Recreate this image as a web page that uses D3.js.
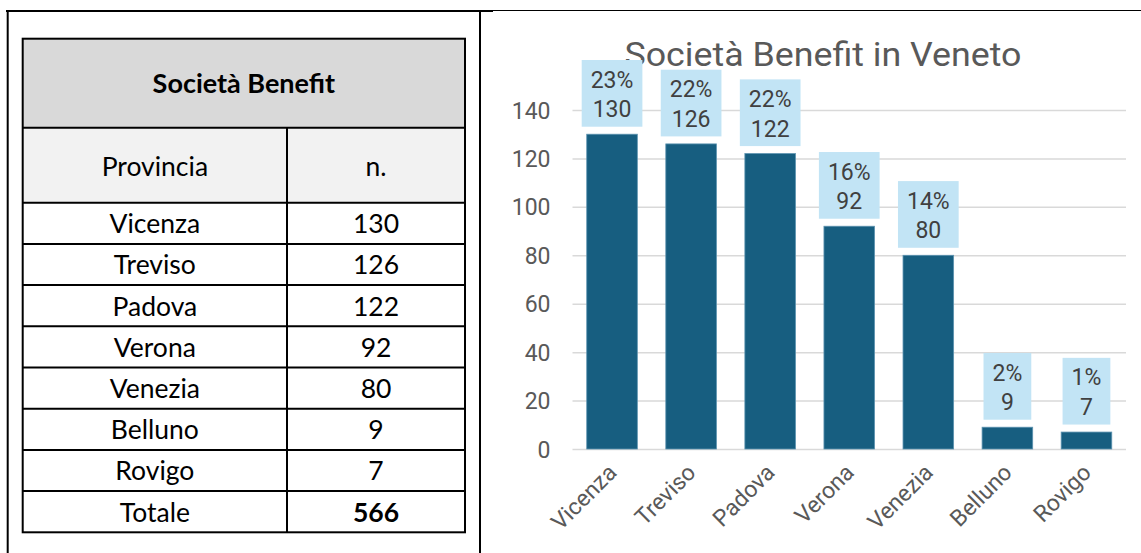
<!DOCTYPE html>
<html>
<head>
<meta charset="utf-8">
<title>Società Benefit in Veneto</title>
<style>
  body { margin: 0; background: #fff; }
  svg { display: block; }
  .tbl text { font-family: Lato, 'Open Sans', sans-serif; fill: #000; }
  .chart text { font-family: Roboto, 'Noto Sans', sans-serif; }
  .grid line { stroke: #d9d9d9; stroke-width: 1.5px; }
  .grid path { display: none; }
  .grid text { fill: #595959; font-size: 23px; }
</style>
</head>
<body>
<script src="https://cdn.jsdelivr.net/npm/d3@7"></script>
<script>

// data
var province = ["Vicenza", "Treviso", "Padova", "Verona", "Venezia", "Belluno", "Rovigo"];
var societa = [130, 126, 122, 92, 80, 9, 7];
var yTicks = [0, 20, 40, 60, 80, 100, 120, 140];
var titolo = "Società Benefit in Veneto";
var intestazione = ["Provincia", "n."];

var totale = d3.sum(societa);
var rows = province.map(function(p, i) { return {nome: p, n: societa[i]}; });

var W = 1141, H = 553;
var svg = d3.select("body").append("svg")
    .attr("width", W)
    .attr("height", H);

// cornice
svg.append("line").attr("x1", 6).attr("x2", 493).attr("y1", 11).attr("y2", 11)
    .attr("stroke", "#000").attr("stroke-width", 2);
svg.append("line").attr("x1", 493).attr("x2", W).attr("y1", 10.5).attr("y2", 10.5)
    .attr("stroke", "#000").attr("stroke-width", 1);
svg.append("line").attr("x1", 7.7).attr("x2", 7.7).attr("y1", 10).attr("y2", H)
    .attr("stroke", "#000").attr("stroke-width", 2);
svg.append("line").attr("x1", 480).attr("x2", 480).attr("y1", 10).attr("y2", H)
    .attr("stroke", "#000").attr("stroke-width", 2);

// ---------- tabella ----------
var tbl = svg.append("g").attr("class", "tbl");
var tx0 = 22.7, tx1 = 465, tcol = 287;
var ty0 = 38.7, tyHead = 127.7, tySub = 202.7, tyEnd = 532.3;

var righe = rows.concat([{nome: "Totale", n: totale, bold: true}]);
var rowY = d3.scaleBand()
    .domain(d3.range(righe.length))
    .range([tySub, tyEnd]);

tbl.append("rect").attr("x", tx0).attr("y", ty0)
    .attr("width", tx1 - tx0).attr("height", tyHead - ty0).attr("fill", "#d9d9d9");
tbl.append("rect").attr("x", tx0).attr("y", tyHead)
    .attr("width", tx1 - tx0).attr("height", tySub - tyHead).attr("fill", "#f2f2f2");

tbl.append("text")
    .attr("x", (tx0 + tx1) / 2).attr("y", 92.5)
    .attr("text-anchor", "middle")
    .style("font-size", "27px").style("font-weight", "bold")
    .text("Società Benefit");

var c1 = (tx0 + tcol) / 2, c2 = (tcol + tx1) / 2;
tbl.selectAll(".hdr").data(intestazione).enter().append("text")
    .attr("x", function(d, i) { return i == 0 ? c1 : c2; })
    .attr("y", 175.5)
    .attr("text-anchor", "middle")
    .style("font-size", "26.5px")
    .text(function(d) { return d; });

var riga = tbl.selectAll(".riga").data(righe).enter().append("g")
    .attr("transform", function(d, i) { return "translate(0," + rowY(i) + ")"; });
riga.append("text")
    .attr("x", c1).attr("y", rowY.bandwidth() / 2 + 10)
    .attr("text-anchor", "middle")
    .style("font-size", "26.5px")
    .text(function(d) { return d.nome; });
riga.append("text")
    .attr("x", c2).attr("y", rowY.bandwidth() / 2 + 10)
    .attr("text-anchor", "middle")
    .style("font-size", "26.5px")
    .style("font-weight", function(d) { return d.bold ? "bold" : "normal"; })
    .text(function(d) { return d.n; });

// linee tabella
var lines = tbl.append("g").attr("stroke", "#000").attr("stroke-width", 2);
lines.append("rect").attr("x", tx0).attr("y", ty0)
    .attr("width", tx1 - tx0).attr("height", tyEnd - ty0).attr("fill", "none");
lines.append("line").attr("x1", tx0).attr("x2", tx1).attr("y1", tyHead).attr("y2", tyHead);
lines.append("line").attr("x1", tcol).attr("x2", tcol).attr("y1", tyHead).attr("y2", tyEnd);
lines.selectAll(".hl").data(d3.range(righe.length)).enter().append("line")
    .attr("x1", tx0).attr("x2", tx1)
    .attr("y1", function(i) { return rowY(i); })
    .attr("y2", function(i) { return rowY(i); });

// ---------- grafico ----------
var chart = svg.append("g").attr("class", "chart");
var x = d3.scaleBand()
    .domain(province)
    .range([572.5, 1126])
    .paddingInner(0.36)
    .paddingOuter(0.18);
var y = d3.scaleLinear()
    .domain([0, 140])
    .range([449, 110]);

chart.append("g")
    .attr("class", "grid")
    .attr("transform", "translate(572.5,0)")
    .call(d3.axisLeft(y).tickValues(yTicks).tickSize(-(1126 - 572.5)).tickPadding(22))
    .call(function(g) { g.selectAll("text").attr("dy", "0.35em"); });

chart.append("text")
    .attr("x", 823).attr("y", 66)
    .attr("text-anchor", "middle")
    .attr("fill", "#595959")
    .style("font-size", "34px")
    .attr("textLength", 397)
    .attr("lengthAdjust", "spacingAndGlyphs")
    .text(titolo);

chart.selectAll(".bar").data(rows).enter().append("rect")
    .attr("x", function(d) { return x(d.nome); })
    .attr("y", function(d) { return y(d.n); })
    .attr("width", x.bandwidth())
    .attr("height", function(d) { return y(0) - y(d.n); })
    .attr("fill", "#175e80")
    .attr("stroke", "#5d93b0")
    .attr("stroke-width", 0.8);

// etichette dati
var lab = chart.selectAll(".lab").data(rows).enter().append("g");
lab.append("rect").attr("fill", "#c2e4f5");
lab.append("text")
    .attr("class", "pct")
    .attr("text-anchor", "middle")
    .attr("fill", "#404040")
    .style("font-size", "23px")
    .attr("x", function(d) { return x(d.nome) + x.bandwidth() / 2; })
    .attr("y", function(d) { return y(d.n) - 7.5 - 66.7 + 27.5; })
    .text(function(d) { return Math.round(d.n / totale * 100) + "%"; });
lab.append("text")
    .attr("class", "val")
    .attr("text-anchor", "middle")
    .attr("fill", "#404040")
    .style("font-size", "23px")
    .attr("x", function(d) { return x(d.nome) + x.bandwidth() / 2; })
    .attr("y", function(d) { return y(d.n) - 7.5 - 9.5; })
    .text(function(d) { return d.n; });
lab.each(function(d) {
    var g = d3.select(this);
    var w = Math.max(g.select(".pct").node().getComputedTextLength(),
                     g.select(".val").node().getComputedTextLength()) + 18;
    g.select("rect")
        .attr("x", x(d.nome) + x.bandwidth() / 2 - w / 2)
        .attr("y", y(d.n) - 7.5 - 66.7)
        .attr("width", w)
        .attr("height", 66.7);
});

// etichette asse x
chart.selectAll(".xl").data(province).enter().append("text")
    .attr("transform", function(d) {
        return "translate(" + (x(d) + x.bandwidth() / 2 + 6) + ",474) rotate(-45)";
    })
    .attr("text-anchor", "end")
    .attr("fill", "#595959")
    .style("font-size", "23px")
    .text(function(d) { return d; });

</script>
</body>
</html>
